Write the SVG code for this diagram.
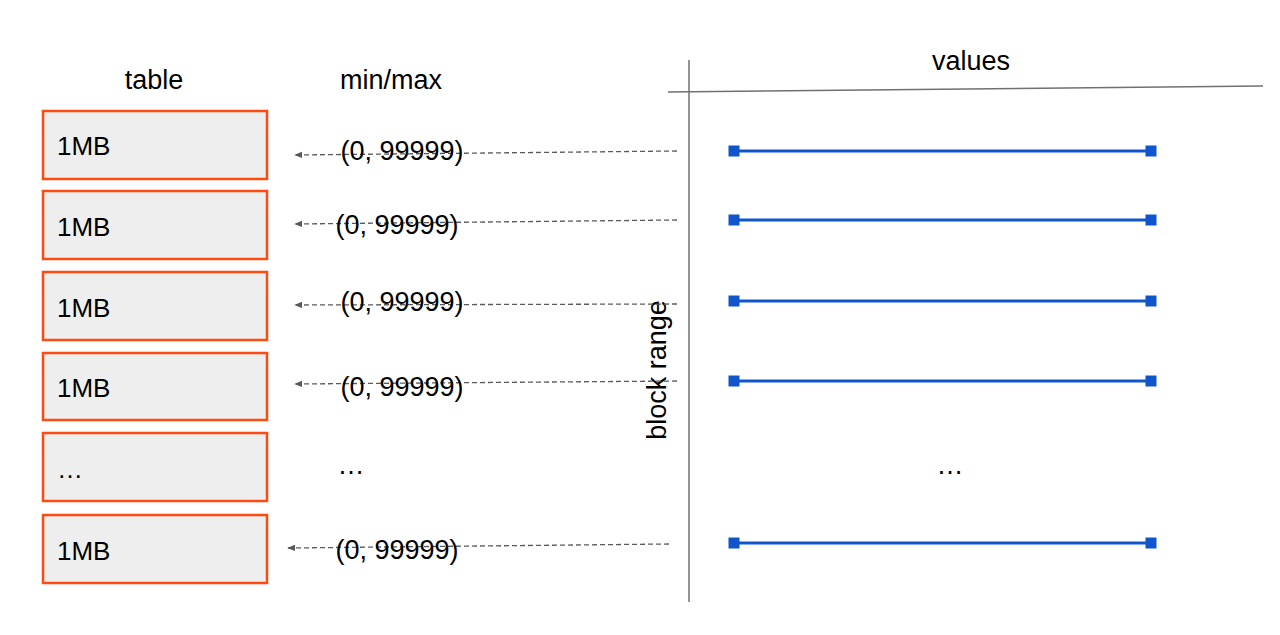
<svg xmlns="http://www.w3.org/2000/svg" width="1280" height="635" viewBox="0 0 1280 635">
<defs>
<style>
.box{fill:#eeeeee;stroke:#ff4a12;stroke-width:2.5}
.t{font-family:"Liberation Sans",Arial,sans-serif;font-size:27px;fill:#000}
.b{font-family:"Liberation Sans",Arial,sans-serif;font-size:26px;fill:#000}
.lbl{font-family:"Liberation Sans",Arial,sans-serif;font-size:27px;fill:#000}
.dash{stroke:#595959;stroke-width:1.3;stroke-dasharray:5,3;fill:none;marker-end:url(#ah)}
.axis{stroke:#707070;stroke-width:1.5;fill:none}
.bl{stroke:#1155cc;stroke-width:3}
.sq{fill:#1155cc}
</style>
<marker id="ah" viewBox="0 0 10 10" refX="9" refY="5" markerWidth="8" markerHeight="8" markerUnits="userSpaceOnUse" orient="auto">
<path d="M0,1 L10,5 L0,9 z" fill="#595959"/>
</marker>
</defs>
<rect width="1280" height="635" fill="#fff"/>
<g id="headers">
<text class="t" x="154" y="89" text-anchor="middle">table</text>
<text class="t" x="391" y="89" text-anchor="middle">min/max</text>
<text class="t" x="971" y="70" text-anchor="middle">values</text>
</g>
<g id="axes">
<line class="axis" x1="689" y1="60" x2="689" y2="602"/>
<line class="axis" x1="668" y1="92" x2="1263" y2="86"/>
<text class="t" transform="translate(666,370) rotate(-90)" text-anchor="middle">block range</text>
</g>
<g id="box1"><rect class="box" x="43" y="111" width="224" height="68"/><text class="b" x="57" y="155">1MB</text></g>
<g id="box2"><rect class="box" x="43" y="191" width="224" height="68"/><text class="b" x="57" y="236">1MB</text></g>
<g id="box3"><rect class="box" x="43" y="272" width="224" height="68"/><text class="b" x="57" y="317">1MB</text></g>
<g id="box4"><rect class="box" x="43" y="353" width="224" height="67"/><text class="b" x="57" y="397">1MB</text></g>
<g id="box5"><rect class="box" x="43" y="433" width="224" height="68"/><text class="b" x="57" y="478">…</text></g>
<g id="box6"><rect class="box" x="43" y="515" width="224" height="68"/><text class="b" x="57" y="560">1MB</text></g>
<g id="connectors">
<line class="dash" x1="677" y1="151" x2="295" y2="155"/>
<line class="dash" x1="677" y1="220" x2="295" y2="224"/>
<line class="dash" x1="677" y1="304" x2="295" y2="305"/>
<line class="dash" x1="677" y1="381" x2="295" y2="384"/>
<line class="dash" x1="669" y1="544" x2="288" y2="548"/>
</g>
<g id="minmax">
<text class="lbl" x="402" y="160" text-anchor="middle">(0, 99999)</text>
<text class="lbl" x="397" y="234" text-anchor="middle">(0, 99999)</text>
<text class="lbl" x="402" y="311" text-anchor="middle">(0, 99999)</text>
<text class="lbl" x="402" y="396" text-anchor="middle">(0, 99999)</text>
<text class="lbl" x="351" y="474" text-anchor="middle">…</text>
<text class="lbl" x="397" y="559" text-anchor="middle">(0, 99999)</text>
</g>
<g id="values">
<g><line class="bl" x1="734" y1="151" x2="1151" y2="151"/><rect class="sq" x="728.5" y="145.5" width="11" height="11"/><rect class="sq" x="1145.5" y="145.5" width="11" height="11"/></g>
<g><line class="bl" x1="734" y1="220" x2="1151" y2="220"/><rect class="sq" x="728.5" y="214.5" width="11" height="11"/><rect class="sq" x="1145.5" y="214.5" width="11" height="11"/></g>
<g><line class="bl" x1="734" y1="301" x2="1151" y2="301"/><rect class="sq" x="728.5" y="295.5" width="11" height="11"/><rect class="sq" x="1145.5" y="295.5" width="11" height="11"/></g>
<g><line class="bl" x1="734" y1="381" x2="1151" y2="381"/><rect class="sq" x="728.5" y="375.5" width="11" height="11"/><rect class="sq" x="1145.5" y="375.5" width="11" height="11"/></g>
<g><line class="bl" x1="734" y1="543" x2="1151" y2="543"/><rect class="sq" x="728.5" y="537.5" width="11" height="11"/><rect class="sq" x="1145.5" y="537.5" width="11" height="11"/></g>
<text class="lbl" x="950" y="474" text-anchor="middle">…</text>
</g>
</svg>
